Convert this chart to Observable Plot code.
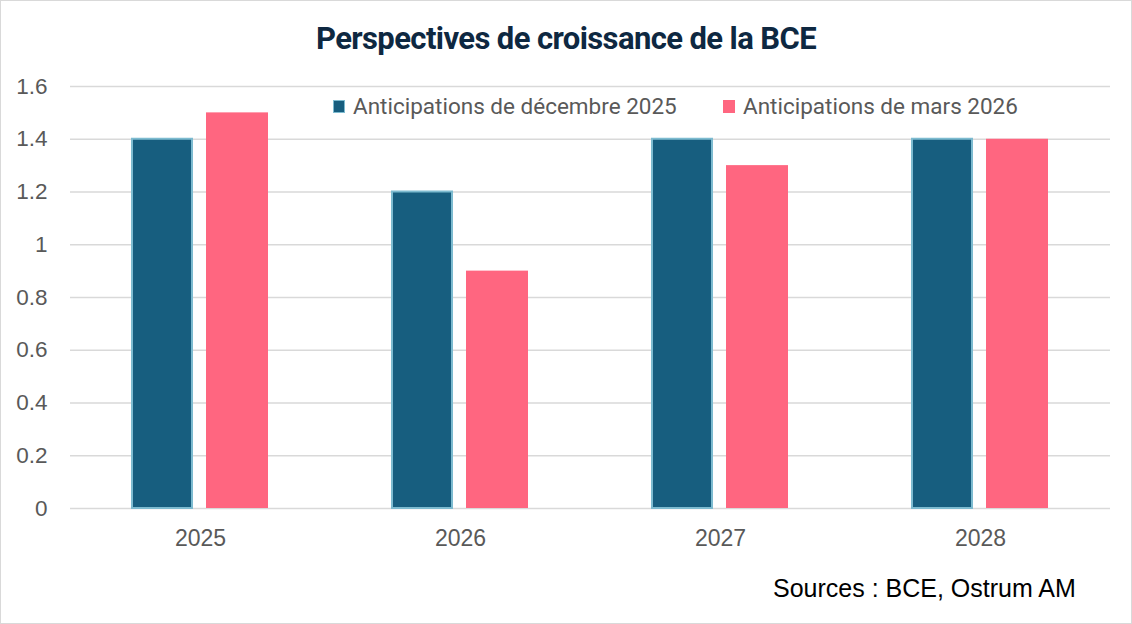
<!DOCTYPE html>
<html>
<head>
<meta charset="utf-8">
<script src="https://cdn.jsdelivr.net/npm/d3@7"></script>
<script src="https://cdn.jsdelivr.net/npm/@observablehq/plot@0.6"></script>
<style>
  html, body { margin: 0; padding: 0; background: #fff; }
  #wrap { position: relative; width: 1132px; height: 624px; overflow: hidden; background: #fff; }
  #border { position: absolute; left: 0; top: 0; width: 1130px; height: 622px; border: 1px solid #d9d9d9; pointer-events: none; }
  #chart { position: absolute; left: 0; top: 0; }
  #title { position: absolute; left: 0; width: 1132px; top: 20px; text-align: center;
    font-family: Roboto, "Noto Sans", sans-serif; font-weight: 700; font-size: 31px; color: #0e2841; letter-spacing: -0.6px; }
  #legend { position: absolute; top: 92px; left: 0; font-family: Roboto, sans-serif; font-size: 22.5px; color: #595959; }
  .item { position: absolute; white-space: nowrap; display: flex; align-items: center; height: 28px; }
  .sw { display: inline-block; width: 12px; height: 13px; margin-right: 8px; box-sizing: border-box; }
  #caption { position: absolute; top: 574px; left: 773px; font-family: "Liberation Sans", Arial, sans-serif; font-size: 25px; color: #000; white-space: nowrap; }
</style>
</head>
<body>
<div id="wrap">
  <div id="chart"></div>
  <div id="title"></div>
  <div id="legend"></div>
  <div id="caption"></div>
  <div id="border"></div>
</div>
<script>
const titleText = "Perspectives de croissance de la BCE";
const captionText = "Sources : BCE, Ostrum AM";
const years = ["2025", "2026", "2027", "2028"];
const seriesNames = ["Anticipations de décembre 2025", "Anticipations de mars 2026"];
const decValues = [1.4, 1.2, 1.4, 1.4];
const marsValues = [1.5, 0.9, 1.3, 1.4];
const yTicks = [0, 0.2, 0.4, 0.6, 0.8, 1, 1.2, 1.4, 1.6];
const yTickLabels = ["0", "0.2", "0.4", "0.6", "0.8", "1", "1.2", "1.4", "1.6"];
const fills = ["#175e7f", "#ff6680"];
const strokes = ["#7dbbd0", "#ff6680"];

const data = [];
years.forEach((y, i) => {
  data.push({year: y, series: seriesNames[0], value: decValues[i]});
  data.push({year: y, series: seriesNames[1], value: marsValues[i]});
});

document.getElementById("title").textContent = titleText;
document.getElementById("caption").textContent = captionText;

const legend = document.getElementById("legend");
const legendX = [333, 723];
seriesNames.forEach((s, i) => {
  const it = document.createElement("div");
  it.className = "item";
  it.style.left = legendX[i] + "px";
  const sw = document.createElement("span");
  sw.className = "sw";
  sw.style.background = fills[i];
  sw.style.border = "1.5px solid " + strokes[i];
  it.appendChild(sw);
  const t = document.createElement("span");
  t.textContent = s;
  it.appendChild(t);
  legend.appendChild(it);
});

const chart = Plot.plot({
  width: 1132,
  height: 624,
  marginTop: 86,
  marginBottom: 116,
  marginLeft: 70,
  marginRight: 22,
  style: {fontFamily: "'Liberation Sans', Arial, sans-serif", fontSize: "22px", color: "#595959", background: "transparent"},
  fx: {domain: years, paddingInner: 0, paddingOuter: 0, axis: null},
  x: {domain: seriesNames, paddingInner: 0.17, paddingOuter: 0.8, axis: null},
  y: {domain: [0, 1.6], axis: null},
  marks: [
    Plot.ruleY(yTicks, {y: d => d, stroke: "#d9d9d9", strokeWidth: 1.5}),
    Plot.barY(data.filter(d => d.series === seriesNames[0]), {fx: "year", x: "series", y: "value", fill: fills[0], stroke: strokes[0], strokeWidth: 2, insetLeft: 1, insetRight: 1}),
    Plot.barY(data.filter(d => d.series === seriesNames[1]), {fx: "year", x: "series", y: "value", fill: fills[1]}),
    Plot.axisFx({domain: years, anchor: "bottom", tickSize: 0, tickPadding: 21, label: null, fontSize: 23, fill: "#595959"}),
    Plot.axisY({ticks: yTicks, tickFormat: (d) => yTickLabels[yTicks.indexOf(d)], anchor: "left", tickSize: 0, tickPadding: 23, label: null, fontSize: 22.5, fill: "#595959"})
  ]
});
document.getElementById("chart").appendChild(chart);
</script>
</body>
</html>
